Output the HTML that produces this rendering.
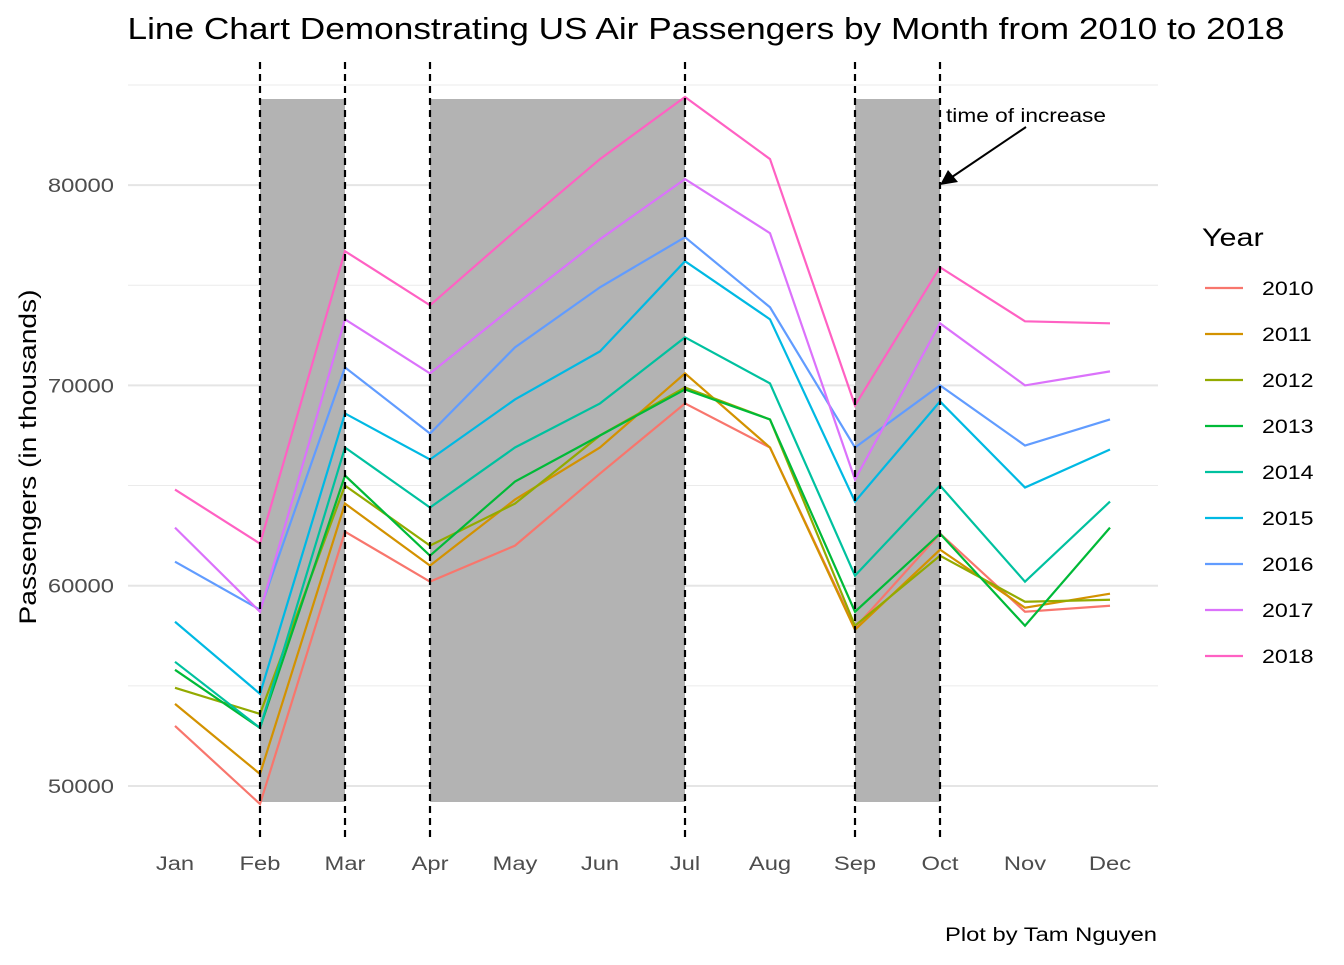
<!DOCTYPE html>
<html><head><meta charset="utf-8"><style>
body{margin:0;background:#fff}
svg text{font-family:"Liberation Sans",sans-serif}
</style></head><body>
<svg id="c" width="1344" height="960" xmlns="http://www.w3.org/2000/svg">
<text x="706" y="39" font-size="31" text-anchor="middle" fill="#000" textLength="1157" lengthAdjust="spacingAndGlyphs">Line Chart Demonstrating US Air Passengers by Month from 2010 to 2018</text>
<text transform="translate(36,457) rotate(-90)" font-size="24" text-anchor="middle" textLength="335" lengthAdjust="spacingAndGlyphs">Passengers (in thousands)</text>
<text x="1157" y="941" font-size="19" text-anchor="end" textLength="212" lengthAdjust="spacingAndGlyphs">Plot by Tam Nguyen</text>
<g id="grid"></g><g id="shade"></g><g id="lines"></g><g id="dash"></g><g id="axes"></g><g id="legend"></g>
<text x="1026" y="122" font-size="19" text-anchor="middle" textLength="160" lengthAdjust="spacingAndGlyphs">time of increase</text>
<line x1="1026" y1="127" x2="952" y2="177" stroke="#000" stroke-width="2"/>
<polygon points="940,185 948,170 958,182" fill="#000"/>
</svg>
<script>
const months=["Jan","Feb","Mar","Apr","May","Jun","Jul","Aug","Sep","Oct","Nov","Dec"];
const years=["2010","2011","2012","2013","2014","2015","2016","2017","2018"];
const yTicks=[50000,60000,70000,80000];
const yMinor=[55000,65000,75000,85000];
const shadeSpans=[[1,2],[3,6],[8,9]];
const dashMonths=[1,2,3,6,8,9];
const s2010=[53000,49100,62700,60200,62000,65600,69100,66900,57900,62600,58700,59000];
const s2011=[54100,50600,64100,61000,64300,66900,70600,66900,57800,61800,58900,59600];
const s2012=[54900,53600,65000,62000,64100,67500,69900,68300,58000,61500,59200,59300];
const s2013=[55800,52900,65500,61500,65200,67500,69800,68300,58700,62600,58000,62900];
const s2014=[56200,52900,66900,63900,66900,69100,72400,70100,60500,65000,60200,64200];
const s2015=[58200,54600,68600,66300,69300,71700,76200,73300,64200,69200,64900,66800];
const s2016=[61200,58800,70900,67600,71900,74900,77400,73900,66900,70000,67000,68300];
const s2017=[62900,58700,73300,70600,74000,77300,80300,77600,65300,73100,70000,70700];
const s2018=[64800,62100,76700,74000,77700,81300,84400,81300,69000,75900,73200,73100];
const series=[s2010,s2011,s2012,s2013,s2014,s2015,s2016,s2017,s2018];
const colors=["#F8766D","#D39200","#93AA00","#00BA38","#00C19F","#00B9E3","#619CFF","#DB72FB","#FF61C3"];
const NS="http://www.w3.org/2000/svg";
const X=i=>175+i*85;
const Y=v=>786-(v-50000)*0.02003;
function mk(t,p,a){const e=document.createElementNS(NS,t);for(const k in a)e.setAttribute(k,a[k]);document.getElementById(p).appendChild(e);return e;}
function widen(t,f){const w=t.getComputedTextLength();t.setAttribute('textLength',(w*f).toFixed(1));t.setAttribute('lengthAdjust','spacingAndGlyphs');}
yMinor.forEach(v=>{const e=mk('line','grid',{x1:128,x2:1158,y1:Y(v),y2:Y(v),stroke:'#ebebeb','stroke-width':1});

});
yTicks.forEach(v=>{const e=mk('line','grid',{x1:128,x2:1158,y1:Y(v),y2:Y(v),stroke:'#e5e5e5','stroke-width':2});


const t=mk('text','axes',{x:114,y:Y(v)+7,'font-size':19,'text-anchor':'end',fill:'#4d4d4d'});t.textContent=v;


widen(t,1.25);});
months.forEach((m,i)=>{const t=mk('text','axes',{x:X(i),y:870,'font-size':19,'text-anchor':'middle',fill:'#4d4d4d'});t.textContent=m;


widen(t,1.25);});
shadeSpans.forEach(s=>{const r=mk('rect','shade',{x:X(s[0]),y:99,width:X(s[1])-X(s[0]),height:703,fill:'#b3b3b3'});

});
series.forEach((s,k)=>{const p=mk('polyline','lines',{points:s.map((v,i)=>X(i)+','+Y(v)).join(' '),fill:'none',stroke:colors[k],'stroke-width':2.2});


const y=288+k*46;
const l=mk('line','legend',{x1:1205,x2:1243,y1:y,y2:y,stroke:colors[k],'stroke-width':2.2});


const t=mk('text','legend',{x:1262,y:y+7,'font-size':19});t.textContent=years[k];


widen(t,1.22);});
dashMonths.forEach(i=>{const d=mk('line','dash',{x1:X(i),x2:X(i),y1:62,y2:840,stroke:'#000','stroke-width':2.2,'stroke-dasharray':'7,5'});

});
const lt=mk('text','legend',{x:1202,y:246,'font-size':25});lt.textContent='Year';


widen(lt,1.22);
</script>
</body></html>
